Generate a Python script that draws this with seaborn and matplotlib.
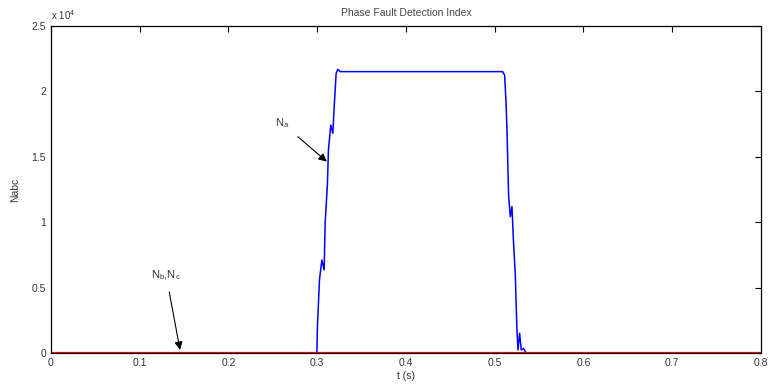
import matplotlib
matplotlib.use("Agg")
import matplotlib.pyplot as plt
import seaborn as sns
import pandas as pd
from matplotlib.ticker import FuncFormatter

# Na (phase a detection index)
t_a = [0.0, 0.2996, 0.3002, 0.3025, 0.3052, 0.3078, 0.3089, 0.3115, 0.3126,
       0.3153, 0.3176, 0.3190, 0.3213, 0.3232, 0.3258, 0.5088, 0.5111, 0.5126,
       0.5138, 0.5156, 0.5175, 0.5194, 0.5212, 0.5231, 0.5250, 0.5262, 0.5280,
       0.5299, 0.5325, 0.5352, 0.8]
n_a = [0, 0, 2010, 5580, 7110, 6350, 9920, 12970, 15520,
       17430, 16800, 18700, 21380, 21690, 21510, 21510, 21250, 19340,
       17050, 12080, 10420, 11190, 8390, 6090, 1760, 230, 1510,
       230, 360, 0, 0]
# Nb, Nc stay at zero
t_bc = [0.0, 0.8]
n_bc = [0, 0]

x_ticks = [0, 0.1, 0.2, 0.3, 0.4, 0.5, 0.6, 0.7, 0.8]
y_ticks = [0, 5000, 10000, 15000, 20000, 25000]

sns.set_style("white")
plt.rcParams['font.family'] = ['Liberation Sans', 'DejaVu Sans']

fig = plt.figure(figsize=(7.69, 3.89), dpi=100)
ax = fig.add_axes([0.0663, 0.0925, 0.9233, 0.8407])

df_a = pd.DataFrame({"t": t_a, "N": n_a})
df_bc = pd.DataFrame({"t": t_bc, "N": n_bc})
sns.lineplot(data=df_a, x="t", y="N", ax=ax, color="#0000ff", lw=1.1,
             estimator=None, sort=False)
sns.lineplot(data=df_bc, x="t", y="N", ax=ax, color="#ff0000", lw=2.3,
             estimator=None, sort=False)

ax.set_xlim(0, 0.8)
ax.set_ylim(0, 25000)
ax.set_xticks(x_ticks)
ax.set_yticks(y_ticks)
ax.xaxis.set_major_formatter(FuncFormatter(lambda v, p: "%g" % round(v, 3)))
ax.yaxis.set_major_formatter(FuncFormatter(lambda v, p: "%g" % (v / 1e4)))
ax.tick_params(direction="in", length=4, width=0.8, labelsize=7.5,
               top=True, right=True, colors="black", labelcolor="#333333")
for s in ax.spines.values():
    s.set_visible(True)
    s.set_color("black")
    s.set_linewidth(0.9)

ax.set_title("Phase Fault Detection Index", fontsize=7.5, color="#444444", pad=7)
ax.set_xlabel("t (s)", fontsize=7.5, color="#333333", labelpad=2)
ax.set_ylabel("Nabc", fontsize=7.5, color="#333333", labelpad=8)
ax.text(-0.0005, 1.012, r"x 10$^\mathregular{4}$", transform=ax.transAxes,
        fontsize=7, color="#333333", ha="left", va="bottom")

ax.annotate(r"N$_\mathregular{a}$", xy=(0.3108, 14630), xytext=(0.2604, 17580),
            fontsize=8, color="#333333", ha="center", va="center",
            arrowprops=dict(arrowstyle="-|>", color="black", lw=0.8,
                            shrinkA=5, shrinkB=0, mutation_scale=12))
ax.annotate(r"N$_\mathregular{b}$,N$_\mathregular{c}$", xy=(0.1454, 230),
            xytext=(0.1297, 5960),
            fontsize=8, color="#333333", ha="center", va="center",
            arrowprops=dict(arrowstyle="-|>", color="black", lw=0.8,
                            shrinkA=5, shrinkB=0, mutation_scale=12))

fig.savefig("out.png", dpi=100, facecolor="white")
